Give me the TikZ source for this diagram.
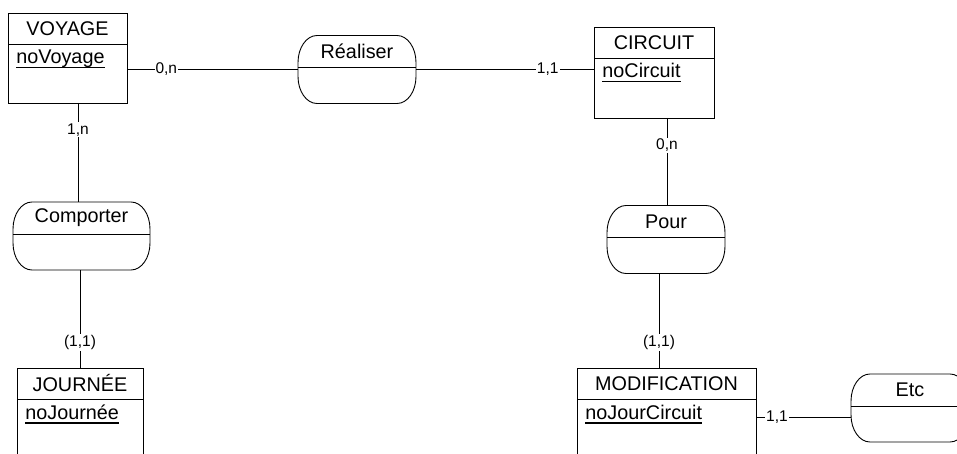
\documentclass[tikz,border=0pt]{standalone}
\usepackage{fontspec}
\setmainfont{Liberation Sans}
\newcommand\souligne[1]{\setbox0\hbox{#1}\rlap{\rule[-4.5pt]{\wd0}{1.5pt}}\box0}
\begin{document}
\begin{tikzpicture}[x=1pt,y=-1pt,line width=0.9pt]
	\tikzset{
		boite/.style={draw,inner sep=0pt,outer sep=0pt,anchor=north west},
		relbox/.style={inner sep=0pt,outer sep=0pt,minimum height=68pt},
		titre/.style={font=\fontsize{19.8}{22}\selectfont},
		card/.style={fill=white,inner sep=1pt,font=\fontsize{15.5}{17}\selectfont}
	}
	\def\rx{19pt}
	\def\ry{27pt}
	\useasboundingbox (0,0) rectangle (957,454);
	\clip (0,0) rectangle (957,454);
	% entites
	\foreach \n/\x/\y/\w/\h/\t/\a in {voyage/8/13/119/90/VOYAGE/noVoyage,
		circuit/594/27/120/91/CIRCUIT/noCircuit,
		journee/17/368/126/100/JOURNÉE/noJournée,
		modif/577/368/179/100/MODIFICATION/noJourCircuit}{
		\node[boite,minimum width=\w pt,minimum height=\h pt] (\n) at (\x,\y) {};
		\draw ([yshift=-31pt]\n.north west) -- ([yshift=-31pt]\n.north east);
		\node[titre] at ([yshift=-15.5pt]\n.north) {\t};
		\node[titre,anchor=base west,inner sep=0pt] at ([xshift=8pt,yshift=-51pt]\n.north west) {\souligne{\a}};
	}
	% associations
	\foreach \n/\x/\y/\w/\t in {realiser/357/69.5/118/Réaliser,
		comporter/81.5/236/137/Comporter,
		pour/666/239.5/118/Pour,
		etc/910/408/118/Etc}{
		\node[relbox,minimum width=\w pt] (\n) at (\x,\y) {};
		\draw ([xshift=\rx]\n.north west) -- ([xshift=-\rx]\n.north east)
			arc[start angle=90,end angle=0,x radius=\rx,y radius=\ry]
			-- ([yshift=\ry]\n.south east)
			arc[start angle=0,end angle=-90,x radius=\rx,y radius=\ry]
			-- ([xshift=\rx]\n.south west)
			arc[start angle=270,end angle=180,x radius=\rx,y radius=\ry]
			-- ([yshift=-\ry]\n.north west)
			arc[start angle=180,end angle=90,x radius=\rx,y radius=\ry] -- cycle;
		\draw ([yshift=-32pt]\n.north west) -- ([yshift=-32pt]\n.north east);
		\node[titre] at ([yshift=-16pt]\n.north) {\t};
	}
	% liens
	\path (78,0)coordinate(xa) (80,0)coordinate(xb) (667,0)coordinate(xc) (659,0)coordinate(xd)
		([yshift=-9pt]etc.west)coordinate(ew);
	\draw (voyage.east |- realiser.west) -- node[card,pos=0.23]{0,n} (realiser.west);
	\draw (realiser.east) -- node[card,pos=0.74]{1,1} (circuit.west |- realiser.east);
	\draw (voyage.south -| xa) -- node[card,pos=0.27]{1,n} (comporter.north -| xa);
	\draw (comporter.south -| xb) -- node[card,pos=0.74]{(1,1)} (journee.north -| xb);
	\draw (circuit.south -| xc) -- node[card,pos=0.31]{0,n} (pour.north -| xc);
	\draw (pour.south -| xd) -- node[card,pos=0.73]{(1,1)} (modif.north -| xd);
	\draw (modif.east |- ew) -- node[card,pos=0.22]{1,1} (ew);
\end{tikzpicture}
\end{document}
